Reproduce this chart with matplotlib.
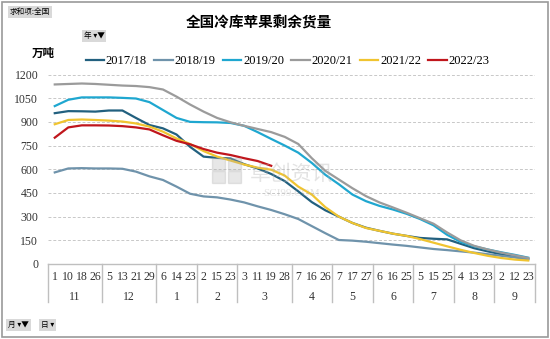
import matplotlib
matplotlib.use('Agg')
import matplotlib.pyplot as plt
import matplotlib.transforms as mtransforms
from matplotlib.patches import Rectangle
import numpy as np

plt.rcParams['font.family'] = ['Liberation Serif', 'Noto Sans CJK SC', 'DejaVu Sans']

# x axis: day labels grouped by month
months = ['11', '12', '1', '2', '3', '4', '5', '6', '7', '8', '9']
month_days = [[1, 10, 18, 26], [5, 13, 21, 29], [6, 14, 23], [2, 15, 23], [3, 11, 19, 28],
              [7, 16, 26], [7, 17, 27], [6, 16, 25], [5, 15, 25], [4, 13, 23], [2, 12, 23]]
days = [d for m in month_days for d in m]

# remaining stock, 10k tons
s1718 = [955, 968, 967, 965, 972, 972, 925, 880, 859, 820, 742, 680, 672, 668, 632, 605, 570, 525,
         460, 392, 340, 300, 260, 230, 210, 192, 178, 165, 160, 156, 128, 100, 80, 62, 45, 30]
s1819 = [580, 605, 607, 605, 605, 603, 585, 555, 532, 490, 445, 428, 422, 408, 390, 365, 342, 315,
         285, 240, 195, 152, 148, 141, 132, 123, 115, 105, 95, 88, 80, 72, 62, 52, 42, 32]
s1920 = [1000, 1040, 1055, 1055, 1055, 1052, 1048, 1025, 975, 925, 900, 898, 897, 893, 875, 835, 792, 750,
         705, 640, 565, 505, 440, 398, 368, 345, 318, 285, 245, 185, 140, 112, 92, 74, 58, 40]
s2021 = [1137, 1140, 1143, 1140, 1135, 1130, 1127, 1120, 1105, 1060, 1010, 965, 925, 897, 875, 855, 835, 805,
         760, 670, 590, 535, 480, 430, 390, 358, 325, 290, 255, 200, 150, 115, 92, 72, 55, 38]
s2122 = [885, 912, 915, 912, 908, 902, 890, 870, 838, 795, 760, 715, 680, 655, 630, 610, 597, 560,
         490, 440, 360, 300, 260, 228, 210, 192, 178, 158, 135, 112, 90, 70, 52, 38, 28, 22]
s2223 = [800, 865, 878, 878, 877, 873, 865, 852, 815, 780, 758, 728, 705, 690, 670, 652, 622] + [None] * 19

series = [('2017/18', s1718, '#22607f'),
          ('2018/19', s1819, '#6f93ab'),
          ('2019/20', s1920, '#1fa7d0'),
          ('2020/21', s2021, '#9b9b9b'),
          ('2021/22', s2122, '#f0c430'),
          ('2022/23', s2223, '#c0161c')]

fig = plt.figure(figsize=(5.5, 3.39), dpi=100)
ax = fig.add_axes([48 / 550, 1 - 264 / 339, 487 / 550, 189.5 / 339])

x = np.arange(len(days))
for name, vals, col in series:
    ax.plot(x, np.array(vals, dtype=float), color=col, lw=1.6, label=name)

ax.set_xlim(-0.5, len(days) - 0.5)
ax.set_ylim(0, 1200)
ax.set_yticks(np.arange(0, 1201, 150))
ax.yaxis.grid(True, ls=(0, (3, 2)), color='#c8c8c8', lw=0.7)
ax.set_axisbelow(True)
for sp in ax.spines.values():
    sp.set_visible(False)
ax.tick_params(axis='y', length=0, pad=7, labelsize=8.5, labelcolor='#333333')
ax.set_xticks(x, [str(d) for d in days])
ax.tick_params(axis='x', length=0, pad=5, labelsize=8.5, labelcolor='#333333')

# month row + dividers under the axis
tr = mtransforms.blended_transform_factory(ax.transData, ax.transAxes)
ax.plot([-0.5, len(days) - 0.5], [0, 0], color='#bfbfbf', lw=1, transform=tr, clip_on=False)
start = -0.5
for m, dl in zip(months, month_days):
    ax.plot([start, start], [0, -0.2], color='#bfbfbf', lw=1, transform=tr, clip_on=False)
    ax.text(start + len(dl) / 2, -0.174, m, transform=tr, ha='center', va='center',
            fontsize=8.5, color='#333333')
    start += len(dl)
ax.plot([start, start], [0, -0.2], color='#bfbfbf', lw=1, transform=tr, clip_on=False)

fig.legend(ncol=6, loc='center', bbox_to_anchor=(0.523, 0.82), frameon=False, fontsize=9,
           handlelength=1.45, handletextpad=0.15, columnspacing=0.6)

fig.text(0.471, 0.933, '全国冷库苹果剩余货量', ha='center', va='center', fontsize=10.5,
         fontweight='bold', family=['Noto Sans CJK SC'])
fig.text(0.079, 0.841, '万吨', ha='center', va='center', fontsize=8.3, fontweight='bold',
         family=['Noto Sans CJK SC'])

# watermark
fig.text(0.53, 0.485, '卓创资讯', ha='center', va='center', fontsize=15, color='#b0b0b0',
         alpha=0.35, family=['Noto Sans CJK SC'], zorder=10)
fig.text(0.53, 0.428, 'SCI99.COM', ha='center', va='center', fontsize=8, color='#b0b0b0',
         alpha=0.35, zorder=10)
for rx, ry in [(212, 158), (228, 158), (212, 171), (228, 171)]:
    fig.patches.append(Rectangle((rx / 550, 1 - (ry + 12) / 339), 13 / 550, 12 / 339,
                                 transform=fig.transFigure, color='#b0b0b0', alpha=0.3, zorder=10))

# pivot chart field buttons
btn = dict(boxstyle='square,pad=0.25', facecolor='#d9d9d9', edgecolor='none')
fig.text(0.0545, 0.965, '求和项:全国', ha='center', va='center', fontsize=5.5, bbox=btn,
         family=['Noto Sans CJK SC', 'DejaVu Sans'])
fig.text(0.171, 0.894, '年 ▾▼', ha='center', va='center', fontsize=5.5, bbox=btn,
         family=['Noto Sans CJK SC', 'DejaVu Sans'])
fig.text(0.034, 0.041, '月 ▾▼', ha='center', va='center', fontsize=5.5, bbox=btn,
         family=['Noto Sans CJK SC', 'DejaVu Sans'])
fig.text(0.086, 0.041, '日 ▾', ha='center', va='center', fontsize=5.5, bbox=btn,
         family=['Noto Sans CJK SC', 'DejaVu Sans'])

fig.patches.append(Rectangle((0.003, 0.005), 0.993, 0.99, transform=fig.transFigure,
                             fill=False, edgecolor='#9a9a9a', lw=1.2))

fig.savefig('out.png', dpi=100)
